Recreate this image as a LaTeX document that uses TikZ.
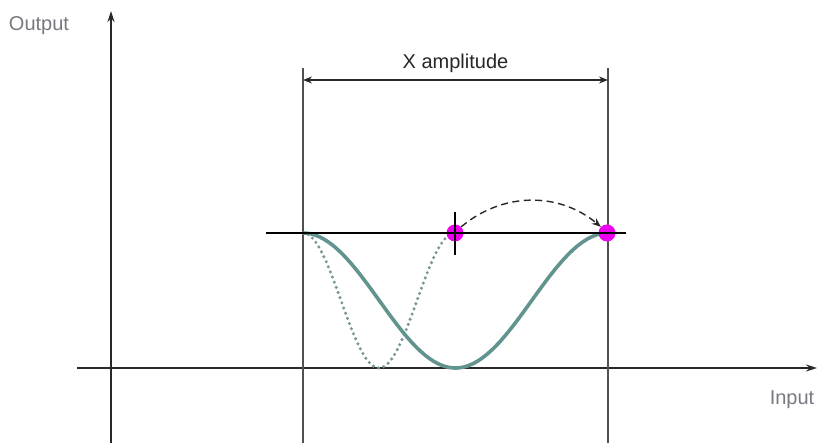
\documentclass[tikz,border=0pt]{standalone}
\usepackage{fontspec}
\setmainfont{Liberation Sans}
\usetikzlibrary{arrows.meta,positioning,calc}
\definecolor{AxisDark}{RGB}{40,40,40}
\definecolor{GuideGray}{RGB}{80,80,80}
\definecolor{CurveTeal}{RGB}{98,148,143}
\definecolor{DotTeal}{RGB}{120,152,150}
\definecolor{LabelGray}{RGB}{120,120,130}
\definecolor{PointMagenta}{RGB}{240,0,240}

\begin{document}
\begin{tikzpicture}[x=1pt,y=-1pt,
        axis/.style={-{Stealth[length=11pt,width=7pt]},AxisDark,line width=1.8pt},
        guide/.style={GuideGray,line width=1.3pt},
        dim/.style={{Stealth[length=9pt,width=7pt]}-{Stealth[length=9pt,width=7pt]},AxisDark,line width=1.3pt},
        jump/.style={-{Stealth[length=9pt,width=7pt]},black!85,line width=1.4pt,dash pattern=on 7pt off 4.5pt},
        curve/.style={CurveTeal,line width=3.6pt},
        ghost/.style={DotTeal,line width=3.4pt,line cap=round,dash pattern=on 0pt off 5.5pt},
        dot/.style={circle,fill=PointMagenta,inner sep=0pt,minimum size=17pt},
        lbl/.style={font=\fontsize{20}{22}\selectfont,text=LabelGray,inner sep=0pt}
      ]
        \useasboundingbox (0,0) rectangle (821,443);
        % axes
        \coordinate (ybot) at (111,443);
        \coordinate (ytop) at (111,11);
        \coordinate (xlft) at (77,368);
        \coordinate (xrgt) at (817,368);
        \draw[axis] (ybot) -- (ytop);
        \draw[axis] (xlft) -- (xrgt);
        \node[lbl] (out) at (39,26) {Output};
        \node[lbl] (in) at (792,400) {Input};
        % amplitude guides
        \coordinate (gl) at (303,443);
        \coordinate (gr) at (608,443);
        \draw[guide] (gl) -- (303,68) coordinate (glt);
        \draw[guide] (gr) -- (608,68) coordinate (grt);
        \draw[dim] ($(glt)+(0,12)$) coordinate (al) -- ($(grt)+(0,12)$) coordinate (ar);
        \node[lbl,text=black!85,above=7pt of $(al)!0.5!(ar)$] (amp) {X amplitude};
        % shifted and original curves
        \draw[ghost] plot[domain=303:455,samples=60] (\x,{300.5-67.5*cos((\x-303)/152*360)});
        \draw[curve] plot[domain=303:608,samples=90] (\x,{300.5-67.5*cos((\x-303)/305*360)});
        % points
        \node[dot] (p1) at (455,233) {};
        \node[dot] (p2) at (607,233) {};
        \coordinate (hl) at (266,233);
        \coordinate (hr) at (626,233);
        \draw[black,line width=1.2pt] (hl) -- (hr);
        \draw[black,line width=1.2pt] ($(p1.center)+(0,-21)$) -- ($(p1.center)+(0,22)$);
        \draw[jump] (p1.north east) to[bend left=40] (p2.north west);
      \end{tikzpicture}
\end{document}
